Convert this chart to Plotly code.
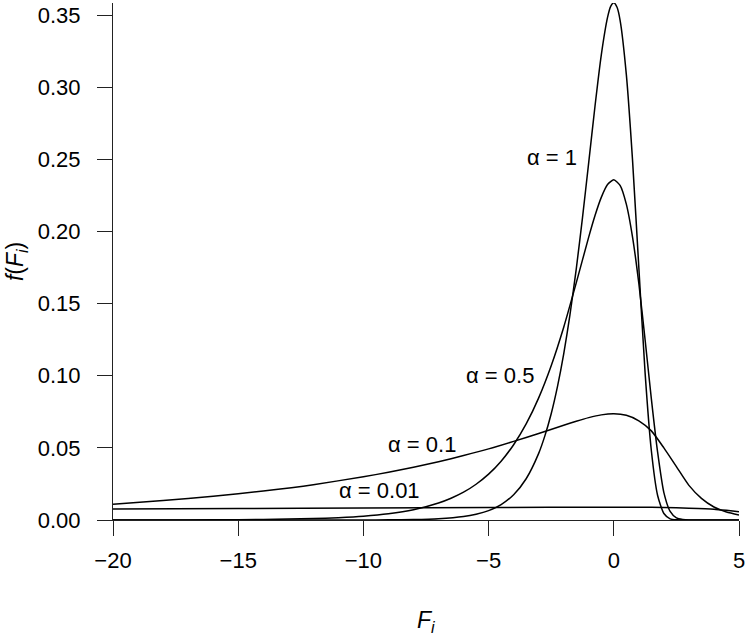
import plotly.graph_objects as go

# --- data ---
x_a1 = [-20, -12, -10, -9, -8, -7, -6, -5.5, -5, -4.5, -4, -3.5, -3, -2.75, -2.5, -2.25, -2, -1.75,
        -1.5, -1.25, -1, -0.75, -0.5, -0.25, -0.125, 0, 0.125, 0.25, 0.5, 0.75, 1, 1.25, 1.5, 1.75, 2,
        2.25, 2.5, 3, 5]
y_a1 = [0, 0, 0.00004, 0.0001, 0.0003, 0.0009, 0.0024, 0.0040, 0.0065, 0.0107, 0.0175, 0.0286, 0.0462,
        0.0585, 0.0737, 0.0925, 0.1152, 0.1424, 0.1740, 0.2097, 0.2482, 0.2871, 0.3224, 0.3485, 0.3562,
        0.3587, 0.3557, 0.3467, 0.309, 0.249, 0.175, 0.102, 0.048, 0.017, 0.0045, 0.0008, 0.0001, 0, 0]

x_a05 = [-20, -18, -16, -14, -12, -11, -10, -9, -8, -7, -6.5, -6, -5.5, -5, -4.5, -4, -3.5, -3, -2.5,
         -2, -1.5, -1, -0.75, -0.5, -0.25, 0, 0.25, 0.5, 0.75, 1, 1.25, 1.5, 1.75, 2, 2.25, 2.5, 2.75, 3, 5]
y_a05 = [0.00002, 0.00005, 0.00013, 0.00035, 0.00096, 0.0016, 0.0026, 0.0043, 0.0071, 0.0118, 0.0151,
         0.0193, 0.0248, 0.0318, 0.0408, 0.0522, 0.0666, 0.0847, 0.1070, 0.1337, 0.1644, 0.1963, 0.2111,
         0.2237, 0.2326, 0.2359, 0.232, 0.219, 0.196, 0.164, 0.125, 0.084, 0.047, 0.019, 0.006, 0.0015,
         0.0004, 0, 0]

x_a01 = [-20, -18, -16, -14, -12, -10, -9, -8, -7, -6, -5, -4, -3, -2, -1.5, -1, -0.5, 0, 0.5, 1, 1.5,
         2, 2.5, 3, 3.5, 4, 4.5, 5]
y_a01 = [0.0110, 0.0135, 0.0164, 0.0201, 0.0245, 0.0300, 0.0331, 0.0366, 0.0404, 0.0447, 0.0493, 0.0545,
         0.0600, 0.0657, 0.0685, 0.0710, 0.0729, 0.0737, 0.0726, 0.0688, 0.0618, 0.0500, 0.0370, 0.0240,
         0.0150, 0.0090, 0.0055, 0.0035]

x_a001 = [-20, -15, -10, -5, 0, 1, 2, 3, 4, 4.5, 5]
y_a001 = [0.0076, 0.0080, 0.0084, 0.0087, 0.0089, 0.0089, 0.0087, 0.0082, 0.0075, 0.0067, 0.0058]

labels = ["α = 1", "α = 0.5", "α = 0.1", "α = 0.01"]
label_x = [-2.46, -4.54, -7.64, -9.34]
label_y = [0.2516, 0.1005, 0.0527, 0.0208]

x_ticks = [-20, -15, -10, -5, 0, 5]
y_ticks = [0.00, 0.05, 0.10, 0.15, 0.20, 0.25, 0.30, 0.35]

FONT = "Liberation Sans, Arial, Helvetica, sans-serif"

fig = go.Figure()
for xs, ys in [(x_a1, y_a1), (x_a05, y_a05), (x_a01, y_a01), (x_a001, y_a001)]:
    fig.add_trace(go.Scatter(x=xs, y=ys, mode="lines",
                             line=dict(color="black", width=1.5, shape="spline", smoothing=0.6),
                             showlegend=False, hoverinfo="skip", cliponaxis=False))

for t, lx, ly in zip(labels, label_x, label_y):
    fig.add_annotation(x=lx, y=ly, text=t, showarrow=False, xanchor="center", yanchor="middle",
                       font=dict(size=22, color="black", family=FONT))

# axis titles
fig.add_annotation(x=0.5, y=-0.197, xref="paper", yref="paper", text="<i>F</i><sub><i>i</i></sub>",
                   showarrow=False, xanchor="center", yanchor="middle",
                   font=dict(size=23, color="black", family=FONT))
fig.add_annotation(x=-0.154, y=0.5, xref="paper", yref="paper",
                   text="<i>f</i>(<i>F</i><sub><i>i</i></sub>)", textangle=-90,
                   showarrow=False, xanchor="center", yanchor="middle",
                   font=dict(size=23, color="black", family=FONT))

fig.update_layout(
    width=747, height=636,
    margin=dict(l=113, r=8, t=3, b=116, autoexpand=False),
    paper_bgcolor="white", plot_bgcolor="white",
    font=dict(family=FONT, size=22, color="black"),
    xaxis=dict(range=[-20, 5], tickvals=x_ticks, ticks="outside", ticklen=15, tickwidth=1,
               tickcolor="#222", showline=True, linecolor="#222", linewidth=1, showgrid=False,
               zeroline=False, ticklabelstandoff=6, automargin=False),
    yaxis=dict(range=[0, 0.3585], tickvals=y_ticks, tickformat=".2f", ticks="outside", ticklen=15,
               tickwidth=1, tickcolor="#222", showline=True, linecolor="#222", linewidth=1,
               showgrid=False, zeroline=False, ticklabelstandoff=12, automargin=False),
)

fig.write_html("out.html", config={"displayModeBar": False},
               post_script="document.body.style.margin='0';document.body.style.overflow='hidden';")
